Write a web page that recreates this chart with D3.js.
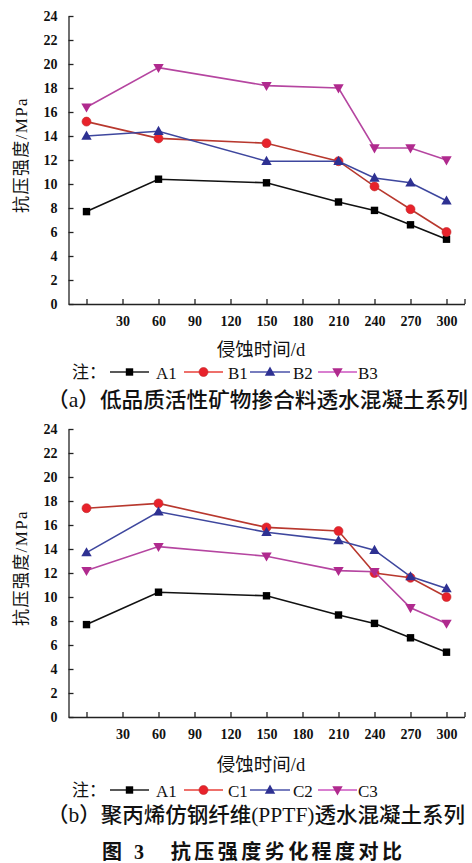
<!DOCTYPE html>
<html>
<head>
<meta charset="utf-8">
<script src="https://cdn.jsdelivr.net/npm/d3@7"></script>
<style>
  html, body { margin: 0; padding: 0; background: #fff; }
  svg { display: block; }
</style>
</head>
<body>
<svg id="chart" width="472" height="863"></svg>
<script>
// Erosion time (days) at which each specimen set was tested
const days = [0, 60, 150, 210, 240, 270, 300];
// x-axis tick positions; the first and last ticks carry no label
const xTicks = [0, 30, 60, 90, 120, 150, 180, 210, 240, 270, 300, 315];
const yTicks = [0, 2, 4, 6, 8, 10, 12, 14, 16, 18, 20, 22, 24];

// Compressive strength, MPa
const a1 = [7.7, 10.4, 10.1, 8.5, 7.8, 6.6, 5.4];
const b1 = [15.2, 13.8, 13.4, 11.9, 9.8, 7.9, 6.0];
const b2 = [14.0, 14.4, 11.9, 11.9, 10.5, 10.1, 8.6];
const b3 = [16.4, 19.7, 18.2, 18.0, 13.0, 13.0, 12.0];
const c1 = [17.4, 17.8, 15.8, 15.5, 12.0, 11.6, 10.0];
const c2 = [13.7, 17.1, 15.4, 14.7, 13.9, 11.7, 10.7];
const c3 = [12.2, 14.2, 13.4, 12.2, 12.1, 9.1, 7.8];

const seriesA = ["A1", "B1", "B2", "B3"];
const seriesB = ["A1", "C1", "C2", "C3"];
const valuesA = [a1, b1, b2, b3];
const valuesB = [a1, c1, c2, c3];

const captionA = "（a）低品质活性矿物掺合料透水混凝土系列";
const captionB = "（b）聚丙烯仿钢纤维(PPTF)透水混凝土系列";
const figTitle = "图 3　抗压强度劣化程度对比";

const SERIF = "'Liberation Serif', 'Times New Roman', 'Noto Sans CJK SC', serif";
const CJK = "'Liberation Serif', 'Noto Sans CJK SC', serif";

// marker shape and colours per slot (A1, second, third, fourth)
const styles = [
  { shape: "square", fill: "#000000", line: "#111111", legendLine: "#222222" },
  { shape: "circle", fill: "#e8222b", line: "#b8382e", legendLine: "#e8403a" },
  { shape: "up",     fill: "#2e3192", line: "#3e479e", legendLine: "#4a52a8" },
  { shape: "down",   fill: "#b02a8e", line: "#b545a0", legendLine: "#cc55c0" }
];

const svg = d3.select("#chart");
const x = d3.scaleLinear().domain([-15, 315]).range([68.5, 464.5]);

function marker(g, shape, cx, cy, fill) {
  if (shape === "square") {
    g.append("rect").attr("x", cx - 3.7).attr("y", cy - 3.7)
      .attr("width", 7.4).attr("height", 7.4).attr("fill", fill);
  } else if (shape === "circle") {
    g.append("circle").attr("cx", cx).attr("cy", cy).attr("r", 4.5)
      .attr("fill", fill).attr("stroke", "#c0282a").attr("stroke-width", 0.6);
  } else if (shape === "up") {
    g.append("path")
      .attr("d", `M${cx},${cy - 5.4}L${cx + 5.2},${cy + 3.7}L${cx - 5.2},${cy + 3.7}Z`)
      .attr("fill", fill);
  } else {
    g.append("path")
      .attr("d", `M${cx - 5.2},${cy - 3.7}L${cx + 5.2},${cy - 3.7}L${cx},${cy + 5.4}Z`)
      .attr("fill", fill);
  }
}

function panel(top, names, values, legendY, xTitleY, caption, captionY, captionLen) {
  const y = d3.scaleLinear().domain([0, 24]).range([top + 288, top]);
  const g = svg.append("g");

  // y axis (ticks point into the plot)
  const ya = g.append("g").attr("transform", `translate(${x.range()[0]},0)`)
    .call(d3.axisLeft(y).tickValues(yTicks).tickSizeInner(-5).tickSizeOuter(0).tickPadding(11));
  // x axis
  const xa = g.append("g").attr("transform", `translate(0,${y(0)})`)
    .call(d3.axisBottom(x).tickValues(xTicks).tickSizeInner(-5).tickSizeOuter(0).tickPadding(12)
      .tickFormat(d => (d === 0 || d === 315) ? "" : d));
  [ya, xa].forEach(a => {
    a.selectAll(".domain, line").attr("stroke", "#222").attr("stroke-width", 1.3);
    a.selectAll("text").style("font-family", SERIF).style("font-size", "14px")
      .style("font-weight", "bold").attr("fill", "#111");
  });

  // y axis title
  g.append("text")
    .attr("transform", `translate(27,${top + 139}) rotate(-90)`)
    .attr("text-anchor", "middle").style("font-family", CJK).style("font-size", "17px")
    .attr("letter-spacing", 1.4).attr("fill", "#111")
    .text("抗压强度/MPa");

  // x axis title
  g.append("text").attr("x", 261).attr("y", xTitleY).attr("text-anchor", "middle")
    .attr("dominant-baseline", "central").style("font-family", CJK).style("font-size", "18.5px")
    .attr("fill", "#111")
    .text("侵蚀时间/d");

  // series lines and markers
  const line = d3.line().x((d, i) => x(days[i])).y(d => y(d));
  values.forEach((vals, k) => {
    const st = styles[k];
    g.append("path").datum(vals).attr("d", line)
      .attr("fill", "none").attr("stroke", st.line).attr("stroke-width", 1.6);
    const mg = g.append("g");
    vals.forEach((v, i) => marker(mg, st.shape, x(days[i]), y(v), st.fill));
  });

  // legend
  const lg = g.append("g");
  lg.append("text").attr("x", 72).attr("y", legendY).attr("dominant-baseline", "central")
    .style("font-family", CJK).style("font-size", "17px").attr("fill", "#111").text("注：");
  const segs = [[110, 149], [184, 223], [250, 290], [318, 357]];
  const labX = [156, 228, 293, 358];
  names.forEach((n, k) => {
    const st = styles[k];
    lg.append("line").attr("x1", segs[k][0]).attr("x2", segs[k][1])
      .attr("y1", legendY).attr("y2", legendY)
      .attr("stroke", st.legendLine).attr("stroke-width", 1.5);
    marker(lg, st.shape, (segs[k][0] + segs[k][1]) / 2, legendY, st.fill);
    lg.append("text").attr("x", labX[k]).attr("y", legendY + 1)
      .attr("dominant-baseline", "central").style("font-family", SERIF)
      .style("font-size", "17px").attr("fill", "#111").text(n);
  });

  // panel caption
  g.append("text").attr("x", 47).attr("y", captionY).attr("dominant-baseline", "central")
    .style("font-family", CJK).style("font-size", "21px").style("font-weight", 500)
    .attr("fill", "#111")
    .attr("textLength", captionLen).attr("lengthAdjust", "spacingAndGlyphs")
    .text(caption);
}

panel(16, seriesA, valuesA, 372, 350, captionA, 400, 421);
panel(429, seriesB, valuesB, 790, 765, captionB, 815, 418);

svg.append("text").attr("x", 102).attr("y", 852).attr("dominant-baseline", "central")
  .style("font-family", CJK).style("font-size", "20px").style("font-weight", "bold")
  .attr("fill", "#111")
  .attr("textLength", 300).attr("lengthAdjust", "spacing")
  .text(figTitle);
</script>
</body>
</html>
